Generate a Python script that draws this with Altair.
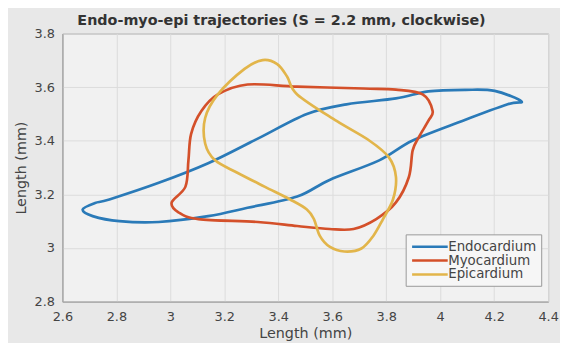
import altair as alt
import pandas as pd

series = ["Endocardium", "Myocardium", "Epicardium"]
colors = ["#2a7ab8", "#d4502a", "#e2b54a"]

endo_x = [2.675, 2.721, 2.774, 2.957, 3.140, 3.324, 3.506, 3.653, 3.836, 3.956,
          4.094, 4.202, 4.301, 4.250, 4.082, 3.898, 3.774, 3.590, 3.470, 3.286,
          3.140, 2.957, 2.811, 2.712]
endo_y = [3.144, 3.168, 3.181, 3.243, 3.316, 3.408, 3.500, 3.536, 3.558, 3.584,
          3.590, 3.586, 3.547, 3.536, 3.474, 3.401, 3.327, 3.254, 3.192, 3.150,
          3.119, 3.097, 3.100, 3.119]

myo_x = [3.115, 3.176, 3.286, 3.470, 3.715, 3.836, 3.935, 3.972, 3.956, 3.920,
         3.898, 3.884, 3.836, 3.763, 3.679, 3.590, 3.470, 3.324, 3.104, 3.030,
         3.005, 3.056, 3.067, 3.077]
myo_y = [3.511, 3.573, 3.610, 3.602, 3.595, 3.591, 3.573, 3.511, 3.474, 3.412,
         3.364, 3.265, 3.170, 3.108, 3.071, 3.071, 3.082, 3.097, 3.108, 3.133,
         3.170, 3.229, 3.327, 3.426]

epi_x = [3.342, 3.396, 3.433, 3.470, 3.616, 3.737, 3.810, 3.836, 3.825, 3.788,
         3.752, 3.708, 3.645, 3.590, 3.554, 3.532, 3.506, 3.444, 3.349, 3.250,
         3.166, 3.129, 3.129, 3.176, 3.275]
epi_y = [3.701, 3.686, 3.639, 3.573, 3.474, 3.401, 3.338, 3.265, 3.181, 3.108,
         3.045, 2.998, 2.987, 3.005, 3.045, 3.108, 3.144, 3.181, 3.229, 3.280,
         3.327, 3.390, 3.485, 3.573, 3.668]

x_ticks = [2.6, 2.8, 3.0, 3.2, 3.4, 3.6, 3.8, 4.0, 4.2, 4.4]
y_ticks = [2.8, 3.0, 3.2, 3.4, 3.6, 3.8]

rows = []
for name, xs, ys in [(series[0], endo_x, endo_y), (series[1], myo_x, myo_y), (series[2], epi_x, epi_y)]:
    for i, (xv, yv) in enumerate(zip(xs, ys)):
        rows.append({"series": name, "x": xv, "y": yv, "i": i})
df = pd.DataFrame(rows)

FONT = "DejaVu Sans"

chart = alt.Chart(df).mark_line(interpolate="cardinal-closed", strokeWidth=2.7).encode(
    x=alt.X("x:Q", scale=alt.Scale(domain=[2.6, 4.4], nice=False),
            axis=alt.Axis(values=x_ticks, title="Length (mm)", format="~g",
                          labelPadding=9, titlePadding=3)),
    y=alt.Y("y:Q", scale=alt.Scale(domain=[2.8, 3.8], nice=False),
            axis=alt.Axis(values=y_ticks, title="Length (mm)", format="~g",
                          labelPadding=8, titlePadding=6)),
    color=alt.Color("series:N", scale=alt.Scale(domain=series, range=colors),
                    legend=alt.Legend(title=None, orient="none", legendX=347, legendY=203,
                                      symbolType="M-1,0H5", symbolSize=144, symbolStrokeWidth=2.5,
                                      labelFontSize=13.5, labelColor="#444444", rowPadding=0,
                                      fillColor="#f6f6f6", strokeColor="#999999", padding=5,
                                      labelOffset=23, labelFont=FONT)),
    order="i:Q",
    detail="series:N",
).properties(
    width=491, height=271,
    title=alt.Title("Endo-myo-epi trajectories (S = 2.2 mm, clockwise)", fontSize=14.5,
                    font=FONT, fontWeight="bold", color="#333333", offset=-1, dx=-24),
    autosize=alt.AutoSizeParams(type="none"),
    padding={"left": 55, "top": 24, "right": 12, "bottom": 40},
    background="#e8e8e8",
).configure_view(
    fill="#f1f1f1", stroke="#9a9a9a", strokeWidth=1
).configure_axis(
    labelFont=FONT, titleFont=FONT,
    labelFontSize=13, titleFontSize=14.5, labelColor="#444444", titleColor="#444444",
    titleFontWeight="normal", gridColor="#dcdcdc", gridWidth=1, domainColor="#9a9a9a",
    ticks=False, labelFlush=False
)

chart.save("out.html", embed_options={"renderer": "svg", "actions": False})
